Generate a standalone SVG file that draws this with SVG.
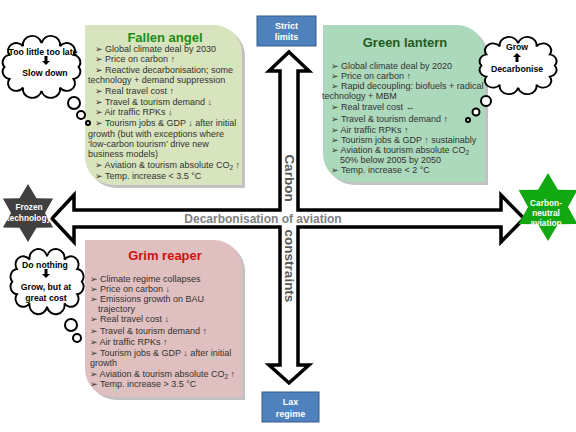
<svg xmlns="http://www.w3.org/2000/svg" width="576" height="432" viewBox="0 0 576 432">
<style>
.bt{font-family:"Liberation Sans",Arial,"DejaVu Sans",sans-serif;font-size:9px;fill:#333}
.title{font-family:"Liberation Sans",Arial,sans-serif;font-size:13px;font-weight:bold;text-anchor:middle}
.cl{font-family:"Liberation Sans",Arial,sans-serif;font-size:8.7px;font-weight:bold;fill:#000;text-anchor:middle}
.wt{font-family:"Liberation Sans",Arial,sans-serif;font-size:9px;font-weight:bold;fill:#fff;text-anchor:middle}
.st{font-family:"Liberation Sans",Arial,sans-serif;font-size:8.3px;font-weight:bold;fill:#fff;text-anchor:middle}
.cloud{fill:#fff;stroke:#000;stroke-width:2;vector-effect:non-scaling-stroke}
.bub{fill:#fff;stroke:#000;stroke-width:2}
.shadow{fill:#9a9a9a;opacity:0.6}
.blue{fill:#4f81bd;stroke:#385d8a;stroke-width:1}
</style>
<defs>
<path id="cloudp" d="M78,31 A8,8 0 0 1 73,44 A8,8 0 0 1 59.5,53.5 A8,8 0 0 1 41,57 A8,8 0 0 1 22.5,53.5 A8,8 0 0 1 9,44 A8,8 0 0 1 4,31 A8,8 0 0 1 9,18 A8,8 0 0 1 22.5,8.5 A8,8 0 0 1 41,5 A8,8 0 0 1 59.5,8.5 A8,8 0 0 1 73,18 A8,8 0 0 1 78,31 Z"/>
<path id="downarr" d="M-1.5,0 H1.5 V5 H4 L0,9 L-4,5 H-1.5 Z"/>
</defs>
<rect width="576" height="432" fill="#fff"/>

<g id="connectors">
<polygon points="289,52 309,71 298,71 298,210 501,210 501,195 524,218.5 501,242 501,227 298,227 298,365 309,365 289,383 269,365 280,365 280,227 74,227 74,242 52,218.5 74,195 74,210 280,210 280,71 269,71" fill="#fff" stroke="#000" stroke-width="3.5" stroke-linejoin="miter"/>
<text x="263" y="222.5" font-family="Liberation Sans,Arial,sans-serif" font-size="12" font-weight="bold" fill="#808080" text-anchor="middle">Decarbonisation of aviation</text>
<text transform="translate(289,178) rotate(90)" font-family="Liberation Sans,Arial,sans-serif" font-size="13.5" font-weight="bold" fill="#595959" text-anchor="middle" dominant-baseline="central">Carbon</text>
<text transform="translate(289,266) rotate(90)" font-family="Liberation Sans,Arial,sans-serif" font-size="13.5" font-weight="bold" fill="#595959" text-anchor="middle" dominant-baseline="central">constraints</text>
</g>

<g id="strict-limits">
<rect class="blue" x="257" y="16" width="59" height="30"/>
<text class="wt" x="286.5" y="28.5">Strict</text>
<text class="wt" x="286.5" y="40">limits</text>
</g>
<g id="lax-regime">
<rect class="blue" x="262" y="392" width="57" height="30"/>
<text class="wt" x="290.5" y="405">Lax</text>
<text class="wt" x="290.5" y="416.5">regime</text>
</g>

<g id="frozen-technology">
<polygon points="28,184 36.5,198.3 53.1,198.5 45,213 53.1,227.5 36.5,227.7 28,242 19.5,227.7 2.9,227.5 11,213 2.9,198.5 19.5,198.3" fill="#404040"/>
<text class="st" x="29" y="210">Frozen</text>
<text class="st" x="29" y="221">technology</text>
</g>
<g id="carbon-neutral-aviation">
<polygon points="548,173 558,189.7 577.4,190 568,207 577.4,224 558,224.3 548,241 538,224.3 518.6,224 528,207 518.6,190 538,189.7" fill="#12a812"/>
<text class="st" x="546" y="206">Carbon-</text>
<text class="st" x="546" y="216">neutral</text>
<text class="st" x="546" y="226">aviation</text>
</g>

<g id="fallen-angel">
<path class="shadow" transform="translate(3,3)" d="M85,25 H214 A28,28 0 0 1 242,53 V185 H113 A28,28 0 0 1 85,157 Z"/>
<path d="M85,25 H214 A28,28 0 0 1 242,53 V185 H113 A28,28 0 0 1 85,157 Z" fill="#d7e4bd"/>
<text class="title" x="165" y="42" fill="#1a8c1a">Fallen angel</text>
<text class="bt" x="95" y="52">➢ Global climate deal by 2030</text>
<text class="bt" x="95" y="62">➢ Price on carbon ↑</text>
<text class="bt" x="95" y="73">➢ Reactive decarbonisation; some</text>
<text class="bt" x="88" y="83">technology + demand suppression</text>
<text class="bt" x="95" y="94">➢ Real travel cost ↑</text>
<text class="bt" x="95" y="105">➢ Travel &amp; tourism demand ↓</text>
<text class="bt" x="95" y="115">➢ Air traffic RPKs ↓</text>
<text class="bt" x="95" y="126">➢ Tourism jobs &amp; GDP ↓ after initial</text>
<text class="bt" x="88" y="137">growth (but with exceptions where</text>
<text class="bt" x="88" y="147">‘low-carbon tourism’ drive new</text>
<text class="bt" x="88" y="157">business models)</text>
<text class="bt" x="95" y="168">➢ Aviation &amp; tourism absolute CO<tspan font-size="6.5" dy="2">2</tspan><tspan dy="-2"> ↑</tspan></text>
<text class="bt" x="95" y="179">➢ Temp. increase &lt; 3.5 °C</text>
</g>

<g id="green-lantern">
<path class="shadow" transform="translate(3,3)" d="M323,25 H457 A28,28 0 0 1 485,53 V182 H351 A28,28 0 0 1 323,154 Z"/>
<path d="M323,25 H457 A28,28 0 0 1 485,53 V182 H351 A28,28 0 0 1 323,154 Z" fill="#acd8bb"/>
<text class="title" x="405" y="47" fill="#1e5c1e">Green lantern</text>
<text class="bt" x="331" y="69">➢ Global climate deal  by 2020</text>
<text class="bt" x="331" y="79">➢ Price on carbon ↑</text>
<text class="bt" x="331" y="89">➢ Rapid decoupling: biofuels +  radical</text>
<text class="bt" x="322" y="99">technology + MBM</text>
<text class="bt" x="331" y="110">➢ Real travel cost ↔</text>
<text class="bt" x="331" y="122">➢ Travel &amp; tourism demand ↑</text>
<text class="bt" x="331" y="133">➢ Air traffic RPKs ↑</text>
<text class="bt" x="331" y="143">➢ Tourism jobs &amp; GDP ↑ sustainably</text>
<text class="bt" x="331" y="153">➢ Aviation &amp; tourism absolute  CO<tspan font-size="6.5" dy="2">2</tspan></text>
<text class="bt" x="340" y="163">50% below 2005 by 2050</text>
<text class="bt" x="331" y="173">➢ Temp. increase &lt; 2 °C</text>
</g>

<g id="grim-reaper">
<path class="shadow" transform="translate(3,3)" d="M85,240 H214 A28,28 0 0 1 242,268 V397 H113 A28,28 0 0 1 85,369 Z"/>
<path d="M85,240 H214 A28,28 0 0 1 242,268 V397 H113 A28,28 0 0 1 85,369 Z" fill="#dfbfbf"/>
<text class="title" x="165" y="260" fill="#d01010">Grim reaper</text>
<text class="bt" x="90" y="282">➢ Climate regime collapses</text>
<text class="bt" x="90" y="292">➢ Price on carbon ↓</text>
<text class="bt" x="90" y="302">➢ Emissions growth on BAU</text>
<text class="bt" x="98" y="312">trajectory</text>
<text class="bt" x="90" y="322">➢ Real travel cost ↓</text>
<text class="bt" x="90" y="334">➢ Travel &amp; tourism demand ↑</text>
<text class="bt" x="90" y="345">➢ Air traffic RPKs ↑</text>
<text class="bt" x="90" y="356">➢ Tourism jobs &amp; GDP ↓ after initial</text>
<text class="bt" x="90" y="366">growth</text>
<text class="bt" x="90" y="377">➢ Aviation &amp; tourism absolute CO<tspan font-size="6.5" dy="2">2</tspan><tspan dy="-2"> ↑</tspan></text>
<text class="bt" x="90" y="387">➢ Temp. increase &gt; 3.5 °C</text>
</g>

<g id="cloud-too-little">
<use href="#cloudp" class="cloud" transform="translate(0.5,38.4) scale(1.0,0.92)"/>
<circle class="bub" cx="74" cy="103" r="6"/>
<circle class="bub" cx="81" cy="115" r="4"/>
<circle class="bub" cx="88" cy="123" r="2"/>
<text class="cl" x="43" y="55">Too little too late</text>
<use href="#downarr" fill="#000" transform="translate(46,56)"/>
<text class="cl" x="45" y="76">Slow down</text>
</g>

<g id="cloud-do-nothing">
<use href="#cloudp" class="cloud" transform="translate(8.5,251.5) scale(0.94,0.97)"/>
<circle class="bub" cx="71" cy="325" r="6"/>
<circle class="bub" cx="77" cy="338" r="4"/>
<text class="cl" x="45" y="268">Do nothing</text>
<use href="#downarr" fill="#000" transform="translate(46,269)"/>
<text class="cl" x="46" y="290">Grow, but at</text>
<text class="cl" x="46" y="301">great cost</text>
</g>

<g id="cloud-grow">
<use href="#cloudp" class="cloud" transform="translate(477.5,39.2) scale(0.99,0.85)"/>
<circle class="bub" cx="486" cy="101" r="5"/>
<circle class="bub" cx="476" cy="112" r="3.5"/>
<circle class="bub" cx="468" cy="120" r="2"/>
<text class="cl" x="517" y="50">Grow</text>
<use href="#downarr" fill="#000" transform="translate(517,62) rotate(180)"/>
<text class="cl" x="517" y="72">Decarbonise</text>
</g>
</svg>
